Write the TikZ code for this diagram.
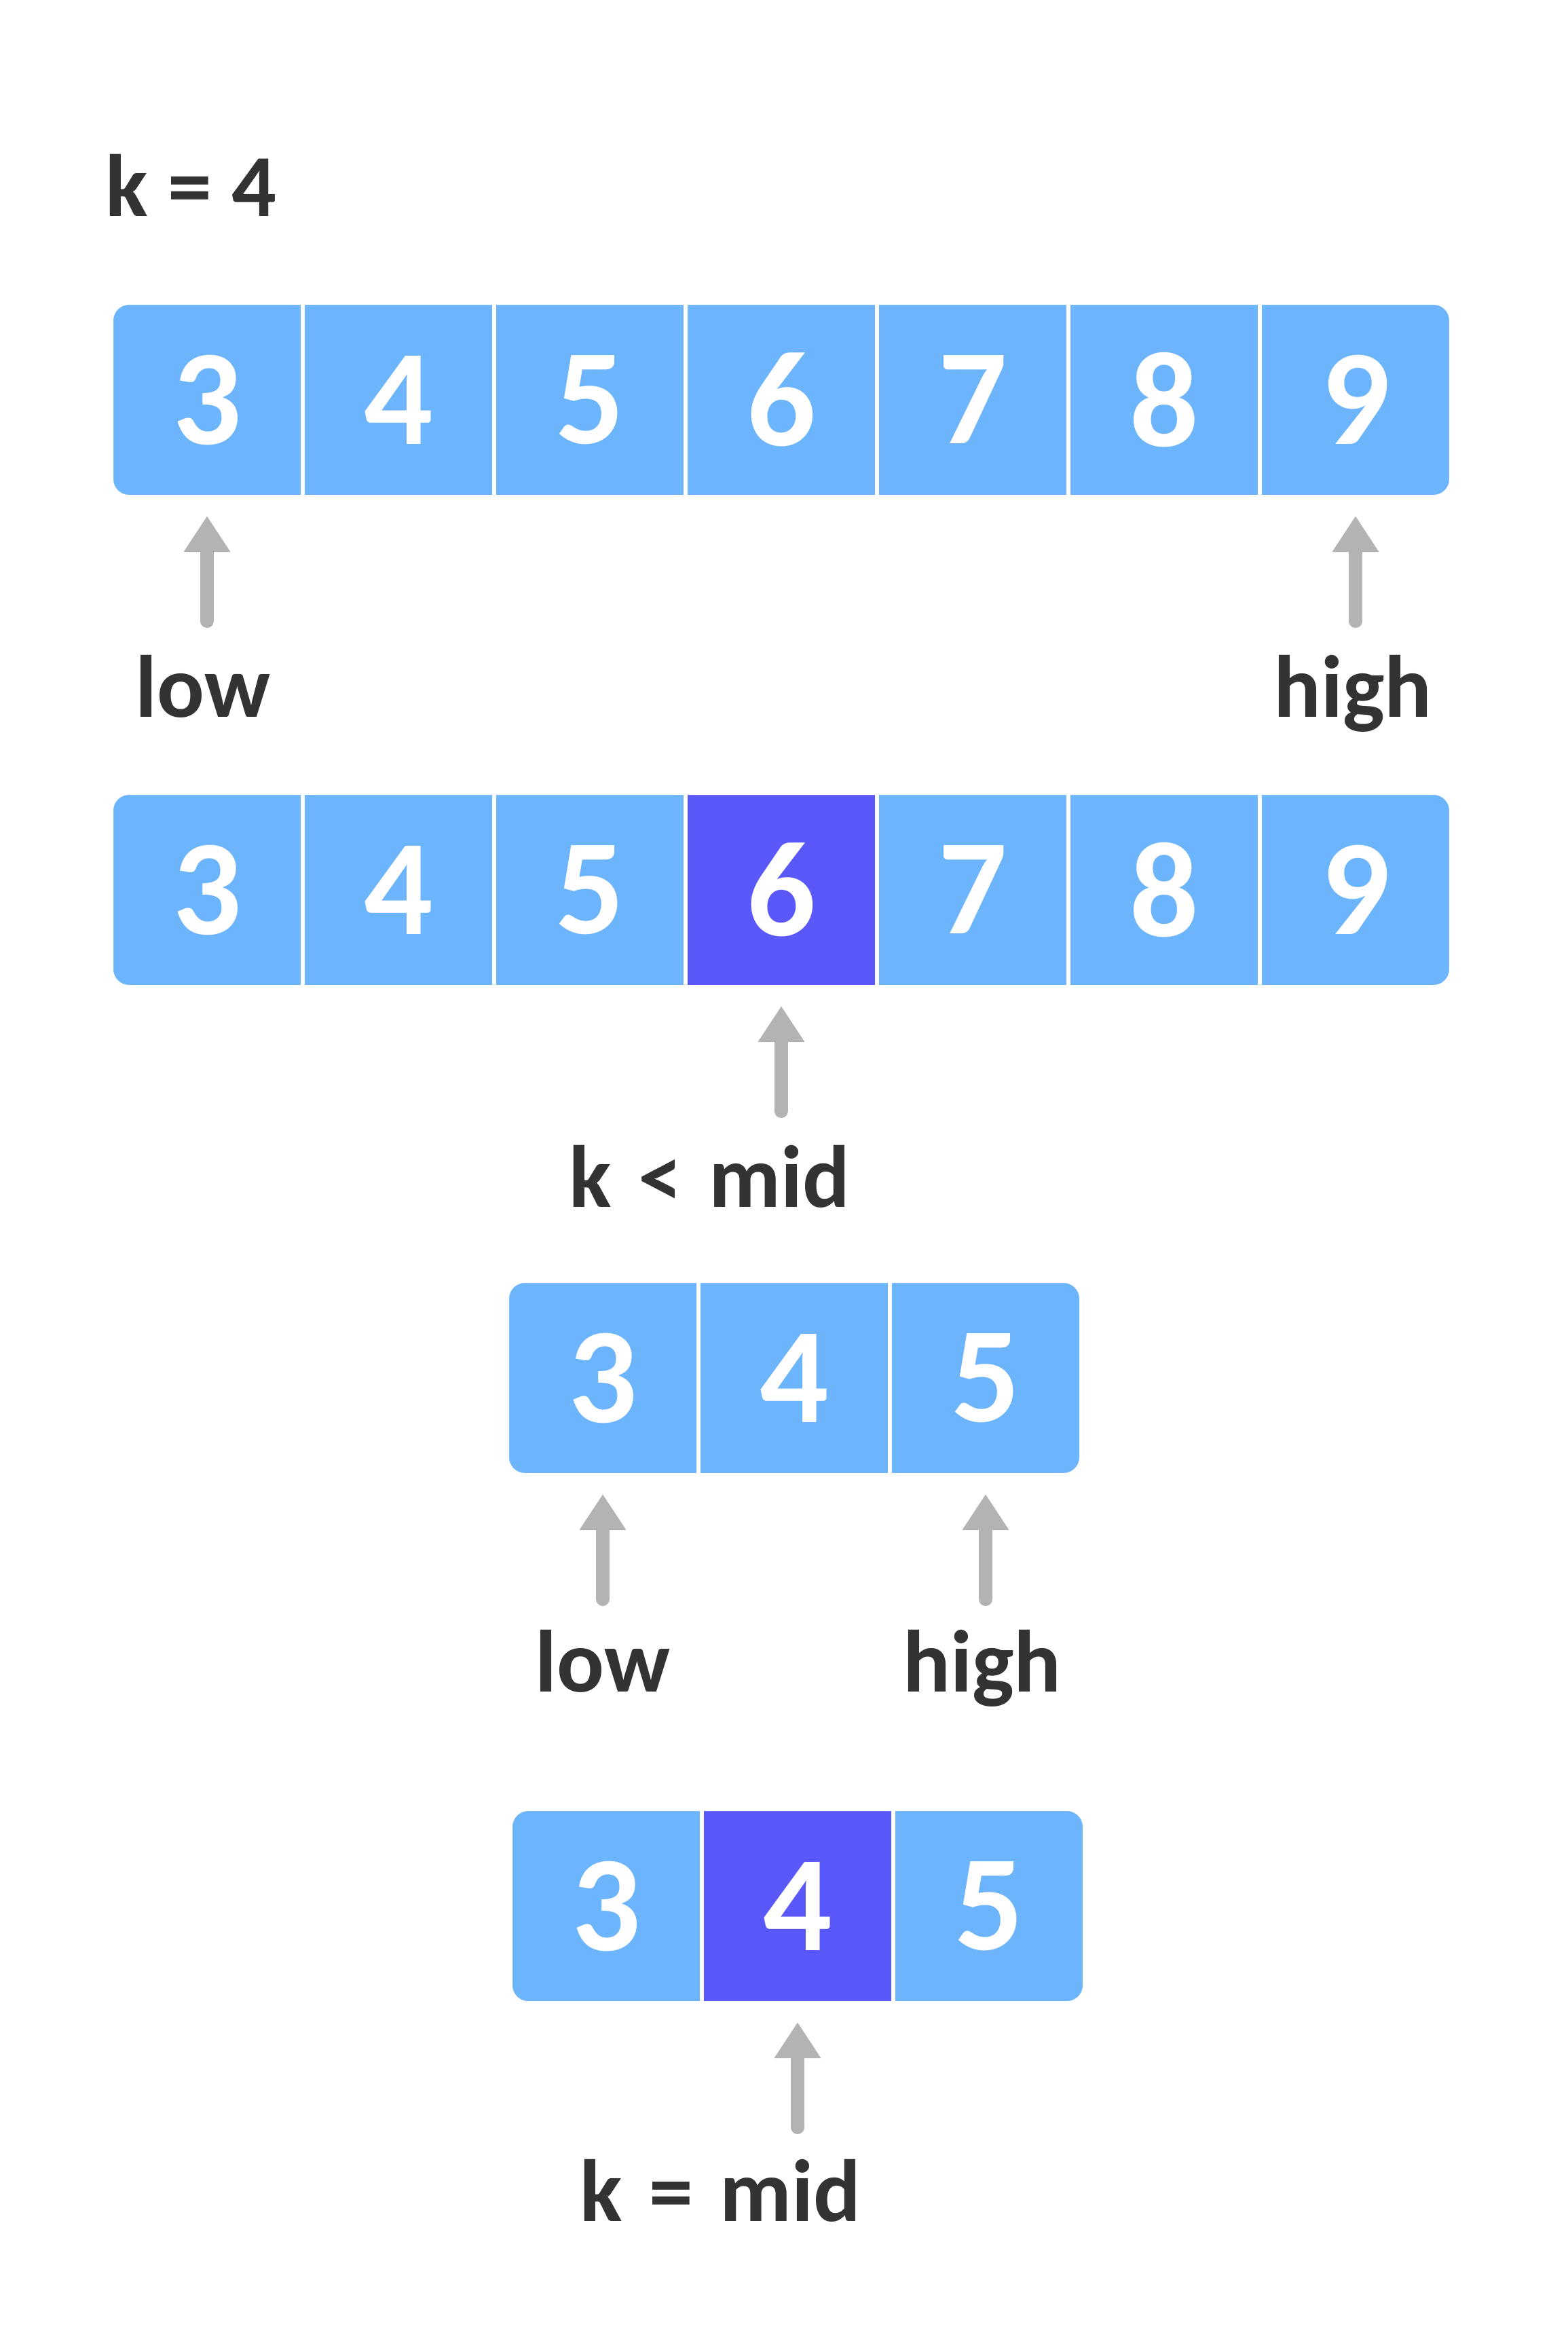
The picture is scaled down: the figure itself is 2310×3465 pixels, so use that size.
\documentclass[tikz,border=0pt]{standalone}
\usepackage{fontspec}
\setmainfont{Carlito}
\usetikzlibrary{positioning,arrows.meta}

\definecolor{cellblue}{HTML}{6CB4FB}
\definecolor{midblue}{HTML}{5B58FA}
\definecolor{arrowgray}{HTML}{B3B3B3}
\definecolor{textdark}{HTML}{333333}

\begin{document}
\begin{tikzpicture}[x=0.1mm,y=-0.1mm,
	cell/.style={rectangle,fill=cellblue,minimum width=27.6mm,minimum height=28mm,inner sep=0pt,outer sep=0pt,text=white,font=\fontsize{57}{66}\selectfont\bfseries},
	midcell/.style={cell,fill=midblue},
	pointer/.style={draw=arrowgray,line width=2mm,line cap=round,-{Triangle[width=6.5mm,length=5.3mm]}},
	tag/.style={text=textdark,inner sep=0pt,font=\fontsize{37}{44}\selectfont\bfseries},
	corners/.style={fill=white,even odd rule}]
	\useasboundingbox (0,0) rectangle (2310,3465);

	% The key we look for
	\node[tag,anchor=base west] (key) at (155,318) {k = 4};

	% Define the first array
	\node[cell] (a1) at (305,589) {3};
	\node[cell,right=0.6mm of a1] (a2) {4};
	\node[cell,right=0.6mm of a2] (a3) {5};
	\node[cell,right=0.6mm of a3] (a4) {6};
	\node[cell,right=0.6mm of a4] (a5) {7};
	\node[cell,right=0.6mm of a5] (a6) {8};
	\node[cell,right=0.6mm of a6] (a7) {9};
	\fill[corners] (a1.north west) rectangle (a7.south east) [rounded corners=2.3mm] (a1.north west) rectangle (a7.south east);

	% Draw low and high of the first array
	\draw[pointer] ([yshift=-18.6mm]a1.south) -- ([yshift=-3.1mm]a1.south);
	\draw[pointer] ([yshift=-18.6mm]a7.south) -- ([yshift=-3.1mm]a7.south);
	\node[tag,anchor=base] (low1) at (299,1056) {low};
	\node[tag,anchor=base] (high1) at (1993,1056) {high};

	% Define the second array
	\node[cell] (b1) at (305,1311) {3};
	\node[cell,right=0.6mm of b1] (b2) {4};
	\node[cell,right=0.6mm of b2] (b3) {5};
	\node[midcell,right=0.6mm of b3] (b4) {6};
	\node[cell,right=0.6mm of b4] (b5) {7};
	\node[cell,right=0.6mm of b5] (b6) {8};
	\node[cell,right=0.6mm of b6] (b7) {9};
	\fill[corners] (b1.north west) rectangle (b7.south east) [rounded corners=2.3mm] (b1.north west) rectangle (b7.south east);

	% Draw mid of the second array
	\draw[pointer] ([yshift=-18.6mm]b4.south) -- ([yshift=-3.1mm]b4.south);
	\node[tag,anchor=base west] (less) at (838,1778) {k \hspace{1mm}< \hspace{1mm}mid};

	% Define the third array
	\node[cell] (c1) at (888,2030) {3};
	\node[cell,right=0.6mm of c1] (c2) {4};
	\node[cell,right=0.6mm of c2] (c3) {5};
	\fill[corners] (c1.north west) rectangle (c3.south east) [rounded corners=2.3mm] (c1.north west) rectangle (c3.south east);

	% Draw low and high of the third array
	\draw[pointer] ([yshift=-18.6mm]c1.south) -- ([yshift=-3.1mm]c1.south);
	\draw[pointer] ([yshift=-18.6mm]c3.south) -- ([yshift=-3.1mm]c3.south);
	\node[tag,anchor=base] (low2) at (888,2492) {low};
	\node[tag,anchor=base] (high2) at (1447,2492) {high};

	% Define the fourth array
	\node[cell] (d1) at (893,2808) {3};
	\node[midcell,right=0.6mm of d1] (d2) {4};
	\node[cell,right=0.6mm of d2] (d3) {5};
	\fill[corners] (d1.north west) rectangle (d3.south east) [rounded corners=2.3mm] (d1.north west) rectangle (d3.south east);

	% Draw mid of the fourth array
	\draw[pointer] ([yshift=-18.6mm]d2.south) -- ([yshift=-3.1mm]d2.south);
	\node[tag,anchor=base west] (equal) at (854,3272) {k \hspace{1mm}= \hspace{1mm}mid};
\end{tikzpicture}
\end{document}
